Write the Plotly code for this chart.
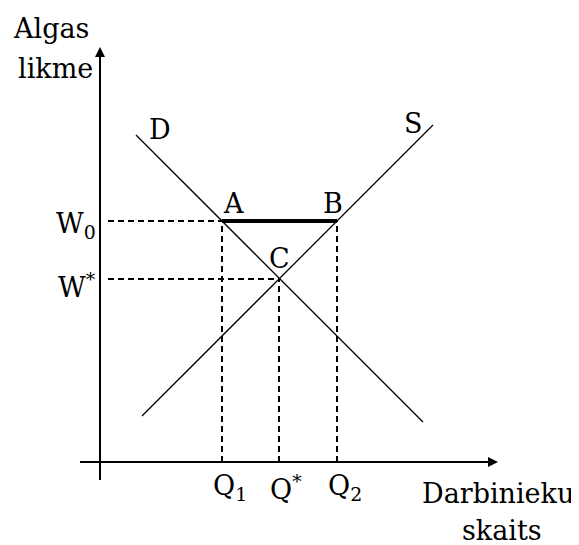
import plotly.graph_objects as go

# axis origin at (0, 0) (1 unit ~ 10 px)
demand_x = [3.6, 32.3]
demand_y = [32.7, 4.0]
supply_x = [4.2, 33.3]
supply_y = [4.6, 33.7]

q_vals = [12.2, 17.9, 23.7]          # Q1, Q*, Q2
q_labels = ["Q<sub>1</sub>", "Q<sup>*</sup>", "Q<sub>2</sub>"]
w_vals = [24.1, 18.3]                # W0, W*
w_labels = ["W<sub>0</sub>", "W<sup>*</sup>"]
pts = {"A": (12.2, 24.1), "B": (23.7, 24.1), "C": (17.9, 18.3)}

x_axis = [-2.0, 37.6]
y_axis = [-1.8, 39.0]

font = dict(family="DejaVu Serif", size=27, color="black")
dash = dict(color="black", width=2, dash="6px,4px")

fig = go.Figure()

# axes
fig.add_trace(go.Scatter(x=x_axis, y=[0, 0], mode="lines",
                         line=dict(color="black", width=2), hoverinfo="skip"))
fig.add_trace(go.Scatter(x=[0, 0], y=y_axis, mode="lines",
                         line=dict(color="black", width=2), hoverinfo="skip"))

# dashed guides
a, b, c = pts["A"], pts["B"], pts["C"]
fig.add_trace(go.Scatter(x=[0.8, a[0]], y=[a[1], a[1]], mode="lines", line=dash))
fig.add_trace(go.Scatter(x=[0.8, c[0]], y=[c[1], c[1]], mode="lines", line=dash))
for p in (a, b, c):
    fig.add_trace(go.Scatter(x=[p[0], p[0]], y=[0, p[1]], mode="lines", line=dash))

# demand and supply
fig.add_trace(go.Scatter(x=demand_x, y=demand_y, mode="lines",
                         line=dict(color="black", width=1.3)))
fig.add_trace(go.Scatter(x=supply_x, y=supply_y, mode="lines",
                         line=dict(color="black", width=1.3)))

# A-B segment
fig.add_trace(go.Scatter(x=[a[0], b[0]], y=[a[1], b[1]], mode="lines",
                         line=dict(color="black", width=4)))

ann = []
# arrow heads on the axes
ann.append(dict(x=39.8, y=0, ax=x_axis[1] - 1, ay=0, xref="x", yref="y",
                axref="x", ayref="y", showarrow=True, arrowhead=2, arrowsize=1,
                arrowwidth=2, arrowcolor="black", text=""))
ann.append(dict(x=0, y=41.5, ax=0, ay=y_axis[1] - 1, xref="x", yref="y",
                axref="x", ayref="y", showarrow=True, arrowhead=2, arrowsize=1,
                arrowwidth=2, arrowcolor="black", text=""))

for q, t in zip(q_vals, q_labels):
    ann.append(dict(x=q - 1.1, y=-2.5, text=t, showarrow=False, xanchor="left", font=font))
ann.append(dict(x=-0.2, y=w_vals[0] - 0.4, text=w_labels[0], showarrow=False,
                xanchor="right", font=font))
ann.append(dict(x=-0.2, y=w_vals[1] - 0.6, text=w_labels[1], showarrow=False,
                xanchor="right", font=font))

ann.append(dict(x=13.3, y=25.9, text="A", showarrow=False, font=font))
ann.append(dict(x=23.3, y=25.9, text="B", showarrow=False, font=font))
ann.append(dict(x=17.9, y=20.4, text="C", showarrow=False, font=font))
ann.append(dict(x=6.0, y=33.3, text="D", showarrow=False, font=font))
ann.append(dict(x=31.3, y=33.9, text="S", showarrow=False, font=font))

ann.append(dict(x=-4.9, y=43.4, text="Algas", showarrow=False, font=font))
ann.append(dict(x=-4.5, y=39.4, text="likme", showarrow=False, font=font))
ann.append(dict(x=39.8, y=-3.1, text="Darbinieku", showarrow=False, font=font))
ann.append(dict(x=40.2, y=-6.8, text="skaits", showarrow=False, font=font))

fig.update_layout(
    width=571, height=537,
    margin=dict(l=0, r=0, t=0, b=0),
    plot_bgcolor="white", paper_bgcolor="white",
    showlegend=False,
    annotations=ann,
    xaxis=dict(range=[-9.2, 47.9], visible=False),
    yaxis=dict(range=[-8.3, 45.4], visible=False),
)

fig.write_html("out.html")
